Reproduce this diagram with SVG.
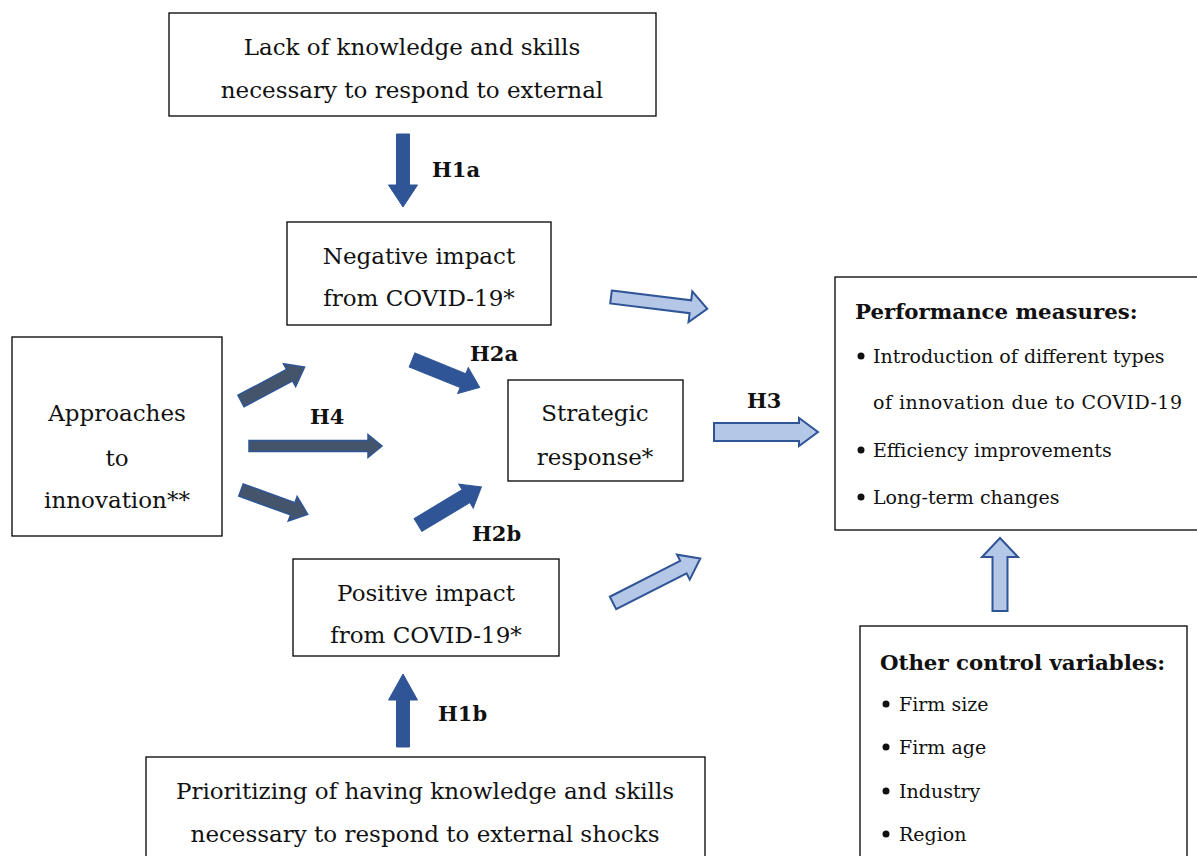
<svg xmlns="http://www.w3.org/2000/svg" width="1197" height="856" viewBox="0 0 1197 856">
<style>
.box{fill:#fff;stroke:#000;stroke-width:1.3}
.t{font-family:"DejaVu Serif","Liberation Serif",serif;font-size:23px;fill:#111;text-anchor:middle}
.lb{font-family:"DejaVu Serif","Liberation Serif",serif;font-size:21px;font-weight:bold;fill:#111}
.hd{font-family:"DejaVu Serif","Liberation Serif",serif;font-size:21.3px;font-weight:bold;fill:#111}
.li{font-family:"DejaVu Serif","Liberation Serif",serif;font-size:19px;fill:#111}
.dk{fill:#2F5597;stroke:#2F5597;stroke-width:1}
.gr{fill:#44546A;stroke:#2F5597;stroke-width:1.5}
.lt{fill:#B4C7E7;stroke:#2F5597;stroke-width:2;stroke-linejoin:miter}
</style>
<rect width="1197" height="856" fill="#fff"/>
<g id="connectors">
  <polygon class="dk" transform="translate(403,134) rotate(90)" points="0,-6.5 51,-6.5 51,-14.5 73,0 51,14.5 51,6.5 0,6.5"/>
  <polygon class="dk" transform="translate(403,747) rotate(-90)" points="0,-6.5 47,-6.5 47,-14.5 73,0 47,14.5 47,6.5 0,6.5"/>
  <polygon class="gr" transform="translate(241,401) rotate(-28)" points="0,-6.5 55,-6.5 55,-13 72,0 55,13 55,6.5 0,6.5"/>
  <polygon class="gr" transform="translate(249,446) rotate(0)" points="0,-5.5 119,-5.5 119,-11.5 133,0 119,11.5 119,5.5 0,5.5"/>
  <polygon class="gr" transform="translate(241,490) rotate(20)" points="0,-6.5 55,-6.5 55,-13 71,0 55,13 55,6.5 0,6.5"/>
  <polygon class="dk" transform="translate(412,360) rotate(22)" points="0,-7.5 55,-7.5 55,-14 73,0 55,14 55,7.5 0,7.5"/>
  <polygon class="dk" transform="translate(418,525) rotate(-31)" points="0,-7.5 56,-7.5 56,-14 74,0 56,14 56,7.5 0,7.5"/>
  <polygon class="lt" transform="translate(611,297) rotate(7)" points="0,-6.5 80,-6.5 80,-15.5 97,0 80,15.5 80,6.5 0,6.5"/>
  <polygon class="lt" transform="translate(714,432) rotate(0)" points="0,-9 85,-9 85,-14 104,0 85,14 85,9 0,9"/>
  <polygon class="lt" transform="translate(613,603) rotate(-27)" points="0,-7 79,-7 79,-14 98,0 79,14 79,7 0,7"/>
  <polygon class="lt" transform="translate(1000,611) rotate(-90)" points="0,-7.5 54,-7.5 54,-18 73,0 54,18 54,7.5 0,7.5"/>
</g>
<g id="labels">
  <text class="lb" x="432" y="177">H1a</text>
  <text class="lb" x="438" y="721">H1b</text>
  <text class="lb" x="470" y="361">H2a</text>
  <text class="lb" x="310" y="424">H4</text>
  <text class="lb" x="472" y="541">H2b</text>
  <text class="lb" x="747" y="408">H3</text>
</g>
<g id="lack">
  <rect class="box" x="169" y="13" width="487" height="103"/>
  <text class="t" x="412" y="55">Lack of knowledge and skills</text>
  <text class="t" x="412" y="98">necessary to respond to external</text>
</g>
<g id="negative">
  <rect class="box" x="287" y="222" width="264" height="103"/>
  <text class="t" x="419" y="264">Negative impact</text>
  <text class="t" x="419" y="306">from COVID-19*</text>
</g>
<g id="approaches">
  <rect class="box" x="12" y="337" width="210" height="199"/>
  <text class="t" x="117" y="421">Approaches</text>
  <text class="t" x="117" y="466">to</text>
  <text class="t" x="117" y="508">innovation**</text>
</g>
<g id="strategic">
  <rect class="box" x="508" y="380" width="175" height="101"/>
  <text class="t" x="595" y="421">Strategic</text>
  <text class="t" x="595" y="465">response*</text>
</g>
<g id="positive">
  <rect class="box" x="293" y="559" width="266" height="97"/>
  <text class="t" x="426" y="601">Positive impact</text>
  <text class="t" x="426" y="643">from COVID-19*</text>
</g>
<g id="prioritizing">
  <rect class="box" x="146" y="757" width="559" height="110"/>
  <text class="t" x="425" y="799">Prioritizing of having knowledge and skills</text>
  <text class="t" x="425" y="842">necessary to respond to external shocks</text>
</g>
<g id="performance">
  <rect class="box" x="835" y="277" width="370" height="253"/>
  <text class="hd" x="855" y="319">Performance measures:</text>
  <circle cx="861" cy="356" r="3.5" fill="#111"/>
  <text class="li" x="873" y="363">Introduction of different types</text>
  <text class="li" x="873" y="409" textLength="309" lengthAdjust="spacing">of innovation due to COVID-19</text>
  <circle cx="861" cy="450" r="3.5" fill="#111"/>
  <text class="li" x="873" y="457">Efficiency improvements</text>
  <circle cx="861" cy="497" r="3.5" fill="#111"/>
  <text class="li" x="873" y="504">Long-term changes</text>
</g>
<g id="controls">
  <rect class="box" x="860" y="626" width="327" height="240"/>
  <text class="hd" x="880" y="670">Other control variables:</text>
  <circle cx="886" cy="704" r="3.5" fill="#111"/>
  <text class="li" x="899" y="711">Firm size</text>
  <circle cx="886" cy="747" r="3.5" fill="#111"/>
  <text class="li" x="899" y="754">Firm age</text>
  <circle cx="886" cy="791" r="3.5" fill="#111"/>
  <text class="li" x="899" y="798">Industry</text>
  <circle cx="886" cy="834" r="3.5" fill="#111"/>
  <text class="li" x="899" y="841">Region</text>
</g>
</svg>
